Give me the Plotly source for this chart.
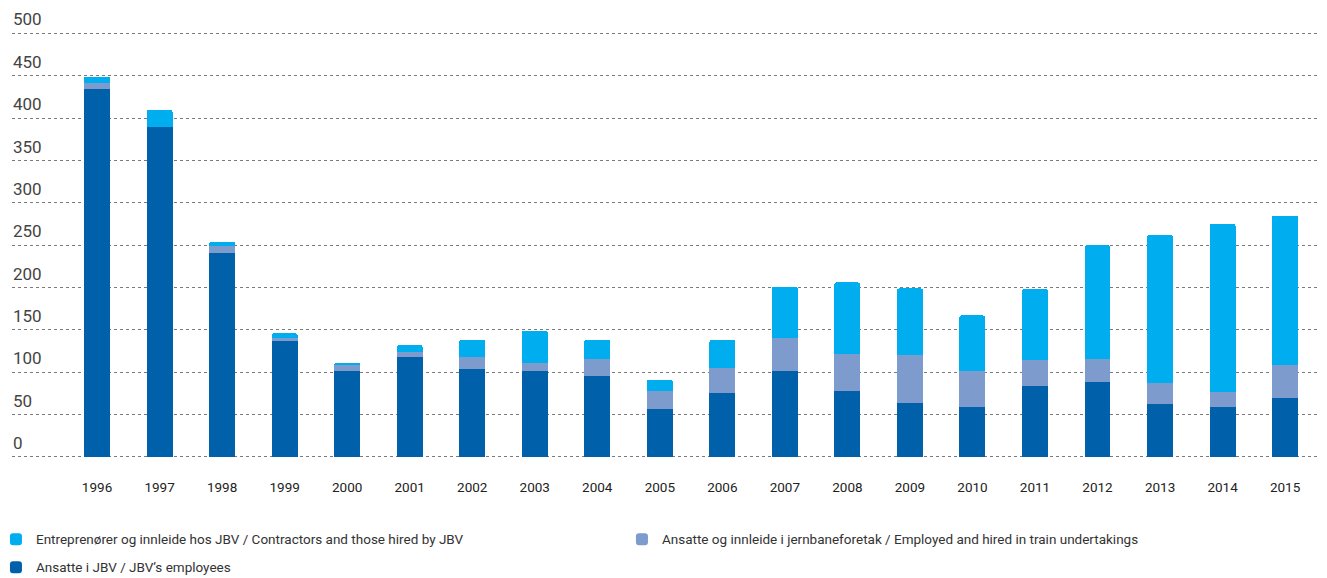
import plotly.graph_objects as go

years = [str(y) for y in range(1996, 2016)]

# Ansatte i JBV / JBV's employees (bottom segment)
employees = [435, 389, 241, 137, 102, 118, 104, 102, 96, 56,
             76, 101, 78, 64, 59, 84, 89, 62, 59, 69]
# Ansatte og innleide i jernbaneforetak (middle segment)
train_undertakings = [6, 0, 8, 4, 6, 6, 14, 9, 20, 22,
                      29, 40, 44, 56, 43, 30, 27, 25, 18, 40]
# Entreprenører og innleide hos JBV (top segment)
contractors = [8, 21, 5, 5, 3, 8, 20, 38, 22, 13,
               33, 60, 84, 79, 65, 84, 134, 175, 198, 176]

y_ticks = list(range(0, 501, 50))

FONT = "Roboto, sans-serif"

fig = go.Figure()
fig.add_trace(go.Bar(x=years, y=employees, name="Ansatte i JBV / JBV’s employees",
                     marker_color="#0061AA", legend="legend2"))
fig.add_trace(go.Bar(x=years, y=train_undertakings,
                     name="Ansatte og innleide i jernbaneforetak / Employed and hired in train undertakings",
                     marker_color="#7D9BCC"))
fig.add_trace(go.Bar(x=years, y=contractors,
                     name="Entreprenører og innleide hos JBV / Contractors and those hired by JBV",
                     marker_color="#00AEEF"))

fig.update_traces(marker_line_width=0)

legend_style = dict(orientation="h", x=-0.0122, xanchor="left", yanchor="top",
                    entrywidth=581, entrywidthmode="pixels",
                    font=dict(size=13.5, color="#333333"), bgcolor="rgba(0,0,0,0)")

# page body adds an 8px offset, so the figure is 8px smaller than the window
fig.update_layout(
    barmode="stack",
    bargap=0.585,
    barcornerradius=2,
    width=1319, height=570,
    margin=dict(l=4, r=0, t=0, b=115.9, autoexpand=False),
    plot_bgcolor="white", paper_bgcolor="white",
    font=dict(family=FONT, size=14, color="#333333"),
    legend=dict(legend_style, traceorder="reversed", y=-0.1363),
    legend2=dict(legend_style, y=-0.198),
)
fig.update_xaxes(range=[-1.36, 19.67], showgrid=False, showline=False, ticks="",
                 ticklabelstandoff=15, tickfont=dict(size=13.5, color="#222222"))
fig.update_yaxes(range=[-6, 530.1], tickvals=y_ticks, showgrid=True, gridcolor="#7a7a7a",
                 griddash="dot", gridwidth=1, zeroline=False, showline=False,
                 ticks="", showticklabels=False)

# y tick labels sit above their gridlines at the left edge
for v in y_ticks:
    fig.add_annotation(x=-0.0008, xref="paper", xanchor="left", y=v, yref="y",
                       yanchor="bottom", yshift=2, text=str(v), showarrow=False,
                       font=dict(size=17, color="#444444"))

fig.write_html("out.html")
